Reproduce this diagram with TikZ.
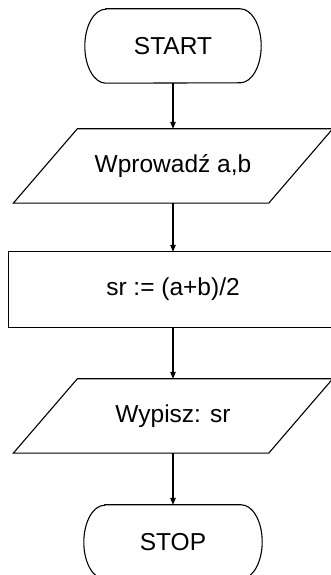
\documentclass[tikz,border=0pt]{standalone}
\usepackage{fontspec}
\setmainfont{Liberation Sans}
\usetikzlibrary{arrows.meta}
\begin{document}
\begin{tikzpicture}[x=1pt,y=1pt,
  every node/.style={font=\fontsize{24.5}{28}\selectfont, inner sep=0pt},
  outline/.style={draw=black, line width=1.1pt},
  flow/.style={draw=black, line width=1.1pt, -{Triangle[length=7pt,width=5.5pt]}},
  slot/.style={minimum height=74pt}]
\useasboundingbox (0,0) rectangle (331,575);

% invisible nodes carry the names and texts; outlines drawn below
\node[slot, minimum width=176pt] (start) at (173,529) {START};
\node[slot, minimum width=319pt] (in)    at (173,409) {Wprowad\'z a,b};
\node[minimum height=75pt, minimum width=329pt] (calc) at (173,285.5) {sr := (a+b)/2};
\node[slot, minimum width=319pt] (out)   at (173,159) {Wypisz: sr};
\node[slot, minimum width=178pt] (stop)  at (173,33) {STOP};

% terminal shapes with elliptic ends
\foreach \n in {start,stop}{
  \draw[outline] ([xshift=21pt]\n.north west) -- ([xshift=-21pt]\n.north east)
    arc[start angle=90, end angle=-90, x radius=21pt, y radius=37pt]
    -- ([xshift=21pt]\n.south west)
    arc[start angle=270, end angle=90, x radius=21pt, y radius=37pt] -- cycle;
}

% input / output parallelograms
\foreach \n in {in,out}{
  \draw[outline] ([xshift=64pt]\n.north west) -- (\n.north east)
    -- ([xshift=-64pt]\n.south east) -- (\n.south west) -- cycle;
}

% process box
\draw[outline] (calc.north west) rectangle (calc.south east);

% connectors
\draw[flow] (start.south) -- (in.north);
\draw[flow] (in.south) -- (calc.north);
\draw[flow] (calc.south) -- (out.north);
\draw[flow] (out.south) -- (stop.north);
\end{tikzpicture}
\end{document}
